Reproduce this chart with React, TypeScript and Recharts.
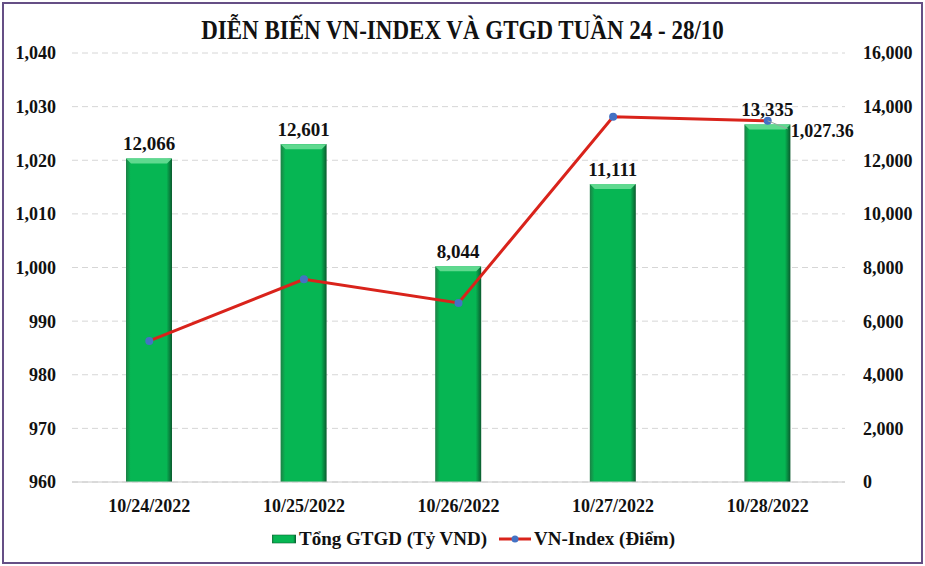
import { ComposedChart, Bar, Line, XAxis, YAxis, CartesianGrid, Legend, LabelList } from 'recharts'

const dates = ['10/24/2022', '10/25/2022', '10/26/2022', '10/27/2022', '10/28/2022']
const gtgd = [12066, 12601, 8044, 11111, 13335]
const vnIndex = [986.3, 997.8, 993.4, 1028.1, 1027.36]
const leftTicks = [960, 970, 980, 990, 1000, 1010, 1020, 1030, 1040]
const rightTicks = [0, 2000, 4000, 6000, 8000, 10000, 12000, 14000, 16000]

const FONT = '"Liberation Serif", "Times New Roman", serif'

const chartData = dates.map((d, i) => ({ date: d, gtgd: gtgd[i], vn: vnIndex[i] }))

const fmt = (v: number) => v.toLocaleString('en-US')

// bevelled green bar like the Excel original
function BevelBar(props: any) {
  const { x, y, width, height } = props
  if (!height || height <= 0) return null
  const b = 5
  return (
    <g>
      <rect x={x} y={y} width={width} height={height} fill="url(#barGrad)" />
      <polygon points={`${x},${y} ${x + width},${y} ${x + width - b},${y + b} ${x + b},${y + b}`} fill="#5fd98f" />
    </g>
  )
}

// only the last point of the index line carries a label
function LastPointLabel(props: any) {
  const { x, y, index, value } = props
  if (index !== dates.length - 1) return null
  return (
    <g>
      <line x1={x} y1={y} x2={x + 20} y2={y + 8} stroke="#9aa7a0" strokeWidth={1} />
      <text x={x + 23} y={y + 16} fontFamily={FONT} fontWeight={700} fontSize={18} fill="#111">
        {value.toLocaleString('en-US', { minimumFractionDigits: 2 })}
      </text>
    </g>
  )
}

function LegendContent() {
  return (
    <div style={{ display: 'flex', justifyContent: 'center', alignItems: 'center', paddingLeft: 22, fontFamily: FONT, fontWeight: 700, fontSize: 19, color: '#111' }}>
      <svg width={24} height={10} style={{ marginRight: 3 }}>
        <rect x={0} y={1} width={24} height={8} fill="url(#barGrad)" stroke="#0b6a33" strokeWidth={0.6} />
      </svg>
      <span>Tổng GTGD (Tỷ VND)</span>
      <svg width={32} height={10} style={{ marginLeft: 12, marginRight: 3 }}>
        <line x1={0} y1={5} x2={32} y2={5} stroke="#d9231b" strokeWidth={3} />
        <circle cx={16} cy={5} r={3.5} fill="#4472c4" />
      </svg>
      <span>VN-Index (Điểm)</span>
    </div>
  )
}

export default function App() {
  return (
    <div style={{ position: 'relative', width: 925, height: 566, background: '#fff' }}>
      <style>{`body{margin:0}`}</style>
      <div
        style={{
          position: 'absolute', left: 2, top: 2, width: 917, height: 558,
          border: '2px solid #654f85', pointerEvents: 'none',
        }}
      />
      <div
        style={{
          position: 'absolute', top: 18, left: 0, width: 925, textAlign: 'center',
          fontFamily: FONT, fontWeight: 700, fontSize: 23, color: '#111', transform: 'scaleY(1.2)',
        }}
      >
        DIỄN BIẾN VN-INDEX VÀ GTGD TUẦN 24 - 28/10
      </div>
      <ComposedChart
        width={925}
        height={566}
        data={chartData}
        margin={{ top: 53, right: 0, left: 0, bottom: 0 }}
      >
        <defs>
          <linearGradient id="barGrad" x1="0" y1="0" x2="1" y2="0">
            <stop offset="0%" stopColor="#1d7f45" />
            <stop offset="10%" stopColor="#06b653" />
            <stop offset="88%" stopColor="#06b653" />
            <stop offset="100%" stopColor="#0b5a2e" />
          </linearGradient>
        </defs>
        <CartesianGrid stroke="#d6d6d6" strokeDasharray="6 4" vertical={false} yAxisId="left" />
        <XAxis
          dataKey="date"
          height={54}
          axisLine={{ stroke: '#c8c8c8' }}
          tickLine={false}
          tickSize={0}
          tickMargin={17}
          tick={{ fontFamily: FONT, fontWeight: 700, fontSize: 18, fill: '#111' }}
        />
        <YAxis
          yAxisId="left"
          orientation="left"
          width={72}
          domain={[960, 1040]}
          ticks={leftTicks}
          axisLine={false}
          tickLine={false}
          tickSize={0}
          tickMargin={16}
          tickFormatter={fmt}
          tick={{ fontFamily: FONT, fontWeight: 700, fontSize: 18, fill: '#111' }}
        />
        <YAxis
          yAxisId="right"
          orientation="right"
          width={80}
          domain={[0, 16000]}
          ticks={rightTicks}
          axisLine={false}
          tickLine={false}
          tickSize={0}
          tickMargin={18}
          tickFormatter={fmt}
          tick={{ fontFamily: FONT, fontWeight: 700, fontSize: 18, fill: '#111', textAnchor: 'start' }}
        />
        <Legend verticalAlign="bottom" height={30} wrapperStyle={{ bottom: 8 }} content={<LegendContent />} />
        <Bar yAxisId="right" dataKey="gtgd" name="Tổng GTGD (Tỷ VND)" fill="url(#barGrad)" barSize={46} shape={<BevelBar />} isAnimationActive={false}>
          <LabelList
            dataKey="gtgd"
            position="top"
            offset={8}
            formatter={(v: any) => fmt(Number(v))}
            style={{ fontFamily: FONT, fontWeight: 700, fontSize: 19, fill: '#111' }}
          />
        </Bar>
        <Line
          yAxisId="left"
          type="linear"
          dataKey="vn"
          name="VN-Index (Điểm)"
          stroke="#d9231b"
          strokeWidth={3}
          dot={{ r: 4, fill: '#4472c4', stroke: '#4472c4', strokeWidth: 0 }}
          isAnimationActive={false}
        >
          <LabelList dataKey="vn" content={<LastPointLabel />} />
        </Line>
      </ComposedChart>
    </div>
  )
}
